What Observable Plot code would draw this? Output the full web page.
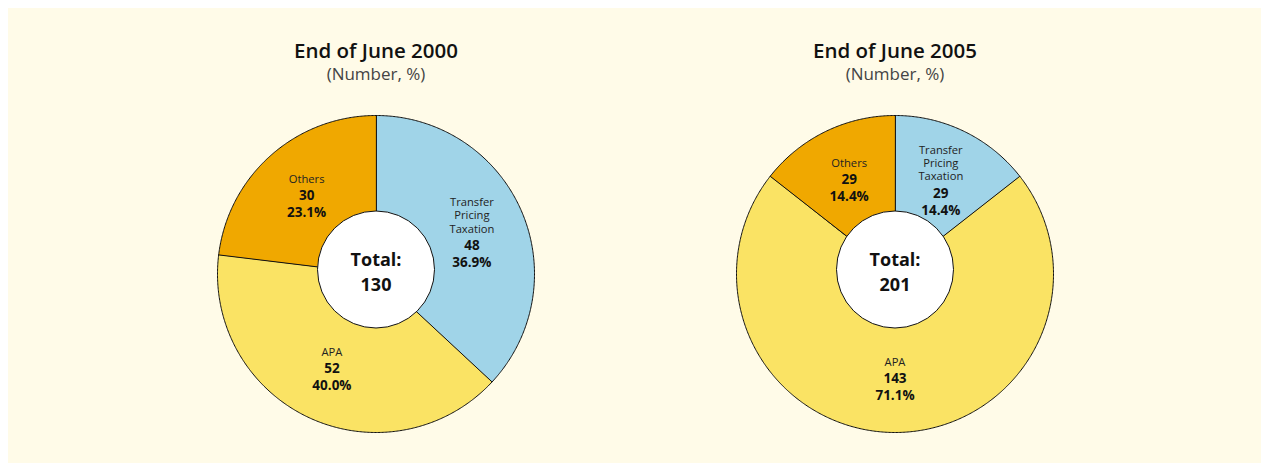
<!DOCTYPE html>
<html><head><meta charset="utf-8">
<script src="https://cdn.jsdelivr.net/npm/d3@7"></script>
<script src="https://cdn.jsdelivr.net/npm/@observablehq/plot@0.6"></script>
<style>
html, body { margin:0; padding:0; background:#ffffff; }
body { padding: 8px 0 0 8px; }
#chart { background:#FFFBE8; width:1253px; height:455px; }
#chart svg { display:block; }
</style></head><body><div id="chart"></div>
<script>
const years = ["End of June 2000", "End of June 2005"];
const subtitle = "(Number, %)";
const categories = ["Transfer Pricing Taxation", "APA", "Others"];
const categoryLines = [["Transfer", "Pricing", "Taxation"], ["APA"], ["Others"]];
const counts2000 = [48, 52, 30];
const counts2005 = [29, 143, 29];
const shares2000 = ["36.9%", "40.0%", "23.1%"];
const shares2005 = ["14.4%", "71.1%", "14.4%"];
const totals = [130, 201];
const colors = ["#A0D4E8", "#FAE364", "#F0A800"];

const counts = [counts2000, counts2005];
const shares = [shares2000, shares2005];

const R = 158.5;        // outer radius in px
const labelK = 0.66;    // label radius as fraction of outer radius
const pie = d3.pie().sort(null);
const slices = [];
const labels = [];
years.forEach((year, yi) => {
  pie(counts[yi]).forEach((arc, ci) => {
    const cat = categories[ci];
    const a0 = arc.startAngle, a1 = arc.endAngle;
    const n = Math.max(2, Math.ceil((a1 - a0) / (Math.PI / 360)));
    slices.push({year, cat, x: 0, y: 0});
    for (let k = 0; k <= n; k++) {
      const a = a0 + (a1 - a0) * k / n;
      slices.push({year, cat, x: Math.sin(a), y: Math.cos(a)});
    }
    const am = (a0 + a1) / 2;
    const lines = categoryLines[ci];
    const shift = (lines.length - 1) * 6.75 / R;
    labels.push({
      year, cat,
      name: lines.join("\n"),
      count: String(counts[yi][ci]),
      share: shares[yi][ci],
      x: labelK * Math.sin(am),
      y: labelK * Math.cos(am) - shift
    });
  });
});
const centers = years.map((year, i) => ({year, word: "Total:", total: String(totals[i])}));

const chart = Plot.plot({
  width: 1253, height: 455,
  marginLeft: 209, marginRight: 208, marginTop: 107, marginBottom: 31,
  x: {domain: [-1, 1], axis: null},
  y: {domain: [-1, 1], axis: null},
  fx: {domain: years, paddingInner: 1 - 317 / 519, paddingOuter: 0, axis: null},
  color: {domain: categories, range: colors},
  style: {background: "transparent", fontFamily: "'Open Sans', sans-serif", color: "#1a1a1a"},
  marks: [
    Plot.line(slices, {fx: "year", x: "x", y: "y", z: "cat", fill: "cat", stroke: "#111", strokeWidth: 1, curve: "linear-closed"}),
    Plot.dot(centers, {fx: "year", frameAnchor: "middle", r: 58.5, fill: "white", stroke: "#111", strokeWidth: 1, dy: -4.5}),
    Plot.text(centers, {fx: "year", frameAnchor: "middle", text: "word", lineAnchor: "bottom", dy: -8.5, fontSize: 18, fontWeight: 700, fill: "#111"}),
    Plot.text(centers, {fx: "year", frameAnchor: "middle", text: "total", lineAnchor: "bottom", dy: 16.5, fontSize: 18, fontWeight: 700, fill: "#111"}),
    Plot.text(years, {fx: d => d, text: d => d, frameAnchor: "top", lineAnchor: "middle", dy: -64.5, fontSize: 20.5, fontWeight: 600, fill: "#111"}),
    Plot.text(years, {fx: d => d, text: () => subtitle, frameAnchor: "top", lineAnchor: "middle", dy: -40.5, fontSize: 17, fill: "#444"}),
    Plot.text(labels, {fx: "year", x: "x", y: "y", text: "name", lineAnchor: "bottom", dy: -13, fontSize: 11.2, lineHeight: 1.2, fill: "#222"}),
    Plot.text(labels, {fx: "year", x: "x", y: "y", text: "count", lineAnchor: "middle", fontSize: 13.5, fontWeight: 700, fill: "#111"}),
    Plot.text(labels, {fx: "year", x: "x", y: "y", text: "share", lineAnchor: "middle", dy: 17, fontSize: 13.5, fontWeight: 700, fill: "#111"})
  ]
});
document.getElementById("chart").appendChild(chart);
</script></body></html>
